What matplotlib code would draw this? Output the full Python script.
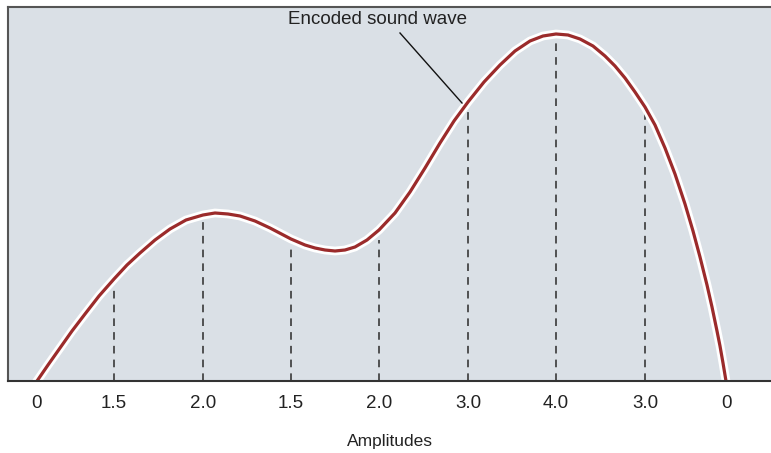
import matplotlib
matplotlib.use("Agg")
import matplotlib.pyplot as plt
import matplotlib.patheffects as pe

# Wave shape (x position, height above baseline)
wave_x = [37, 48, 60, 72, 85, 99, 114, 127, 140, 155, 170, 186, 203, 215, 228, 240, 255,
          270, 291, 305, 315, 325, 335, 345, 355, 367, 379, 395, 410, 425, 440, 454, 468,
          484, 500, 515, 530, 543, 556, 568, 580, 593, 605, 615, 625, 635, 645, 655, 665,
          675, 685, 693, 700, 707, 712, 717, 720, 723, 726]
wave_y = [0, 16, 33, 50, 67, 85, 102, 116, 128, 141, 152, 161, 166, 168, 167, 165, 160,
          153, 142, 136, 133, 131, 130, 131, 134, 141, 151, 168, 189, 213, 238, 260, 279,
          299, 316, 330, 340, 345, 347, 346, 342, 335, 325, 315, 303, 289, 274, 256, 233,
          207, 177, 150, 124, 96, 74, 50, 35, 18, 0]

# Sample positions, dashed line heights and amplitude labels
sample_x = [37, 114, 203, 291, 379, 468, 556, 645, 726]
sample_top = [0, 96, 160, 136, 141, 273, 341, 268, 0]
sample_labels = ["0", "1.5", "2.0", "1.5", "2.0", "3.0", "4.0", "3.0", "0"]

W, H = 771, 453
fig = plt.figure(figsize=(W / 100, H / 100), dpi=100)
ax = fig.add_axes([8 / W, (H - 381) / H, (W - 8) / W, (381 - 7) / H])
ax.set_facecolor("#dae0e6")
ax.set_xlim(8, W)
ax.set_ylim(0, 374)

font = "Liberation Sans"
ink = "#222222"

for x, top in zip(sample_x, sample_top):
    if top > 0:
        ax.vlines(x, 0, top, colors="#2a2a2a", linestyles=(0, (5, 4)), linewidth=1.1)

ax.plot(wave_x, wave_y, color="#9b2b2b", linewidth=2.3, solid_joinstyle="round",
        path_effects=[pe.Stroke(linewidth=6.3, foreground="white"), pe.Normal()])

# label and its pointer line
ax.text(378, 381 - 19, "Encoded sound wave", ha="center", va="center",
        fontsize=13.5, family=font, color=ink)
ax.plot([400, 462], [381 - 33, 381 - 103], color="#111111", linewidth=1)

ax.set_xticks(sample_x)
ax.set_xticklabels(sample_labels, fontsize=13.5, family=font, color=ink)
ax.tick_params(axis="x", length=0, pad=10)
ax.set_yticks([])
ax.set_xlabel("Amplitudes", fontsize=12.5, family=font, color=ink, labelpad=16)

for side in ["left", "top"]:
    ax.spines[side].set_color("#555555")
    ax.spines[side].set_linewidth(1.5)
ax.spines["bottom"].set_color("#333333")
ax.spines["bottom"].set_linewidth(1.5)
ax.spines["right"].set_visible(False)

fig.savefig("out.png", dpi=100)
